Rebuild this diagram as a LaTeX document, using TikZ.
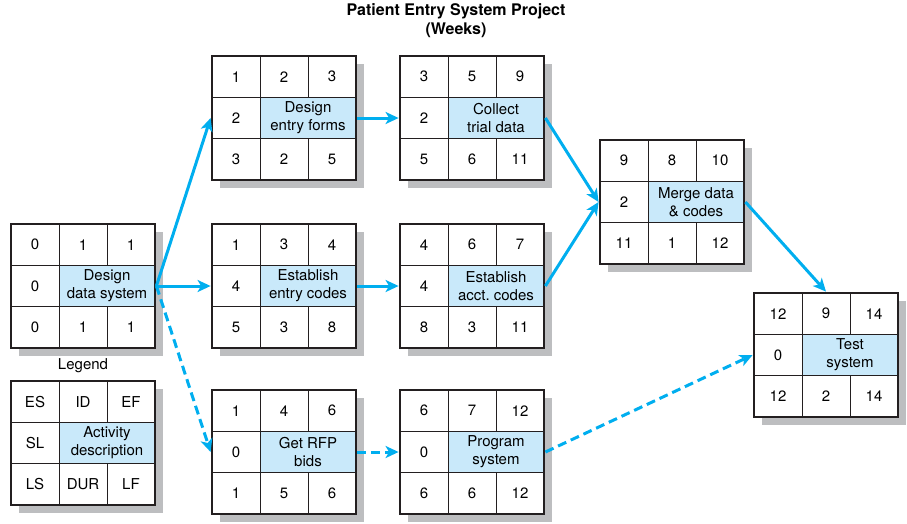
\documentclass[tikz,border=0pt]{standalone}
\usepackage{fontspec}
\setmainfont{TeX Gyre Heros}
\usetikzlibrary{arrows.meta}

\definecolor{linkblue}{RGB}{0,174,239}
\definecolor{cellblue}{RGB}{201,233,250}
\definecolor{shadowgray}{RGB}{189,190,192}
\definecolor{boxline}{RGB}{35,31,32}

\tikzset{
  actbox/.style={draw=boxline, line width=2.8pt, minimum width=144pt, minimum height=124pt, inner sep=0pt},
  cell/.style={font=\fontsize{15}{18}\selectfont, align=center, inner sep=1pt},
  link/.style={draw=linkblue, line width=3pt, -{Stealth[length=13pt,width=12pt,inset=3.5pt]}},
  dummy/.style={link, dash pattern=on 9pt off 5pt},
}

% activity box: name, centre, ES/ID/EF, SL, description, LS/DUR/LF
\newcommand{\actbox}[6]{%
  \begin{scope}[shift={(#2)}]
    \fill[shadowgray] (-64,-54) rectangle (80,70);
    \fill[white] (-72,-62) rectangle (72,62);
    \fill[cellblue] (-24,-20.7) rectangle (72,20.7);
    \draw[boxline, line width=0.9pt] (-72,-20.7) -- (72,-20.7) (-72,20.7) -- (72,20.7)
      (-24,-62) -- (-24,62) (24,-62) -- (24,-20.7) (24,20.7) -- (24,62);
    \node[actbox] (#1) at (0,0) {};
    \foreach \es/\id/\ef in {#3} {
      \node[cell] (#1es) at (-48,-41.3) {\es};
      \node[cell] (#1id) at (0,-41.3) {\id};
      \node[cell] (#1ef) at (48,-41.3) {\ef};
    }
    \node[cell] (#1sl) at (-48,0) {#4};
    \node[cell] (#1desc) at (24,0) {#5};
    \foreach \ls/\dur/\lf in {#6} {
      \node[cell] (#1ls) at (-48,41.3) {\ls};
      \node[cell] (#1dur) at (0,41.3) {\dur};
      \node[cell] (#1lf) at (48,41.3) {\lf};
    }
  \end{scope}}

\begin{document}
\begin{tikzpicture}[x=1pt,y=-1pt]
    \useasboundingbox (0,0) rectangle (907,523);
    \node[font=\fontsize{16}{19}\selectfont\bfseries, align=center] (title) at (456,21) {Patient Entry System Project\\(Weeks)};

    \actbox{dds}{83,286}{0/1/1}{0}{Design\\data system}{0/1/1}
    \actbox{def}{284,118}{1/2/3}{2}{Design\\entry forms}{3/2/5}
    \actbox{ctd}{472,118}{3/5/9}{2}{Collect\\trial data}{5/6/11}
    \actbox{eec}{284,286}{1/3/4}{4}{Establish\\entry codes}{5/3/8}
    \actbox{eac}{472,286}{4/6/7}{4}{Establish\\acct.\ codes}{8/3/11}
    \actbox{grb}{284,452}{1/4/6}{0}{Get RFP\\bids}{1/5/6}
    \actbox{prs}{472,452}{6/7/12}{0}{Program\\system}{6/6/12}
    \actbox{mdc}{672,202}{9/8/10}{2}{Merge data\\\& codes}{11/1/12}
    \actbox{tst}{826,355}{12/9/14}{0}{Test\\system}{12/2/14}

    \node[cell] (legendtitle) at (83,366) {Legend};
    \actbox{lgd}{83,443}{ES/ID/EF}{SL}{Activity\\description}{LS/DUR/LF}

    \draw[link] (dds.east) -- (def.west);
    \draw[link] (dds.east) -- (eec.west);
    \draw[dummy] (dds.east) -- (grb.west);
    \draw[link] (def.east) -- (ctd.west);
    \draw[link] (eec.east) -- (eac.west);
    \draw[dummy] (grb.east) -- (prs.west);
    \draw[link] (ctd.east) -- (mdc.west);
    \draw[link] (eac.east) -- (mdc.west);
    \draw[link] (mdc.east) -- (tst.north);
    \draw[dummy] (prs.east) -- (tst.west);
\end{tikzpicture}
\end{document}
